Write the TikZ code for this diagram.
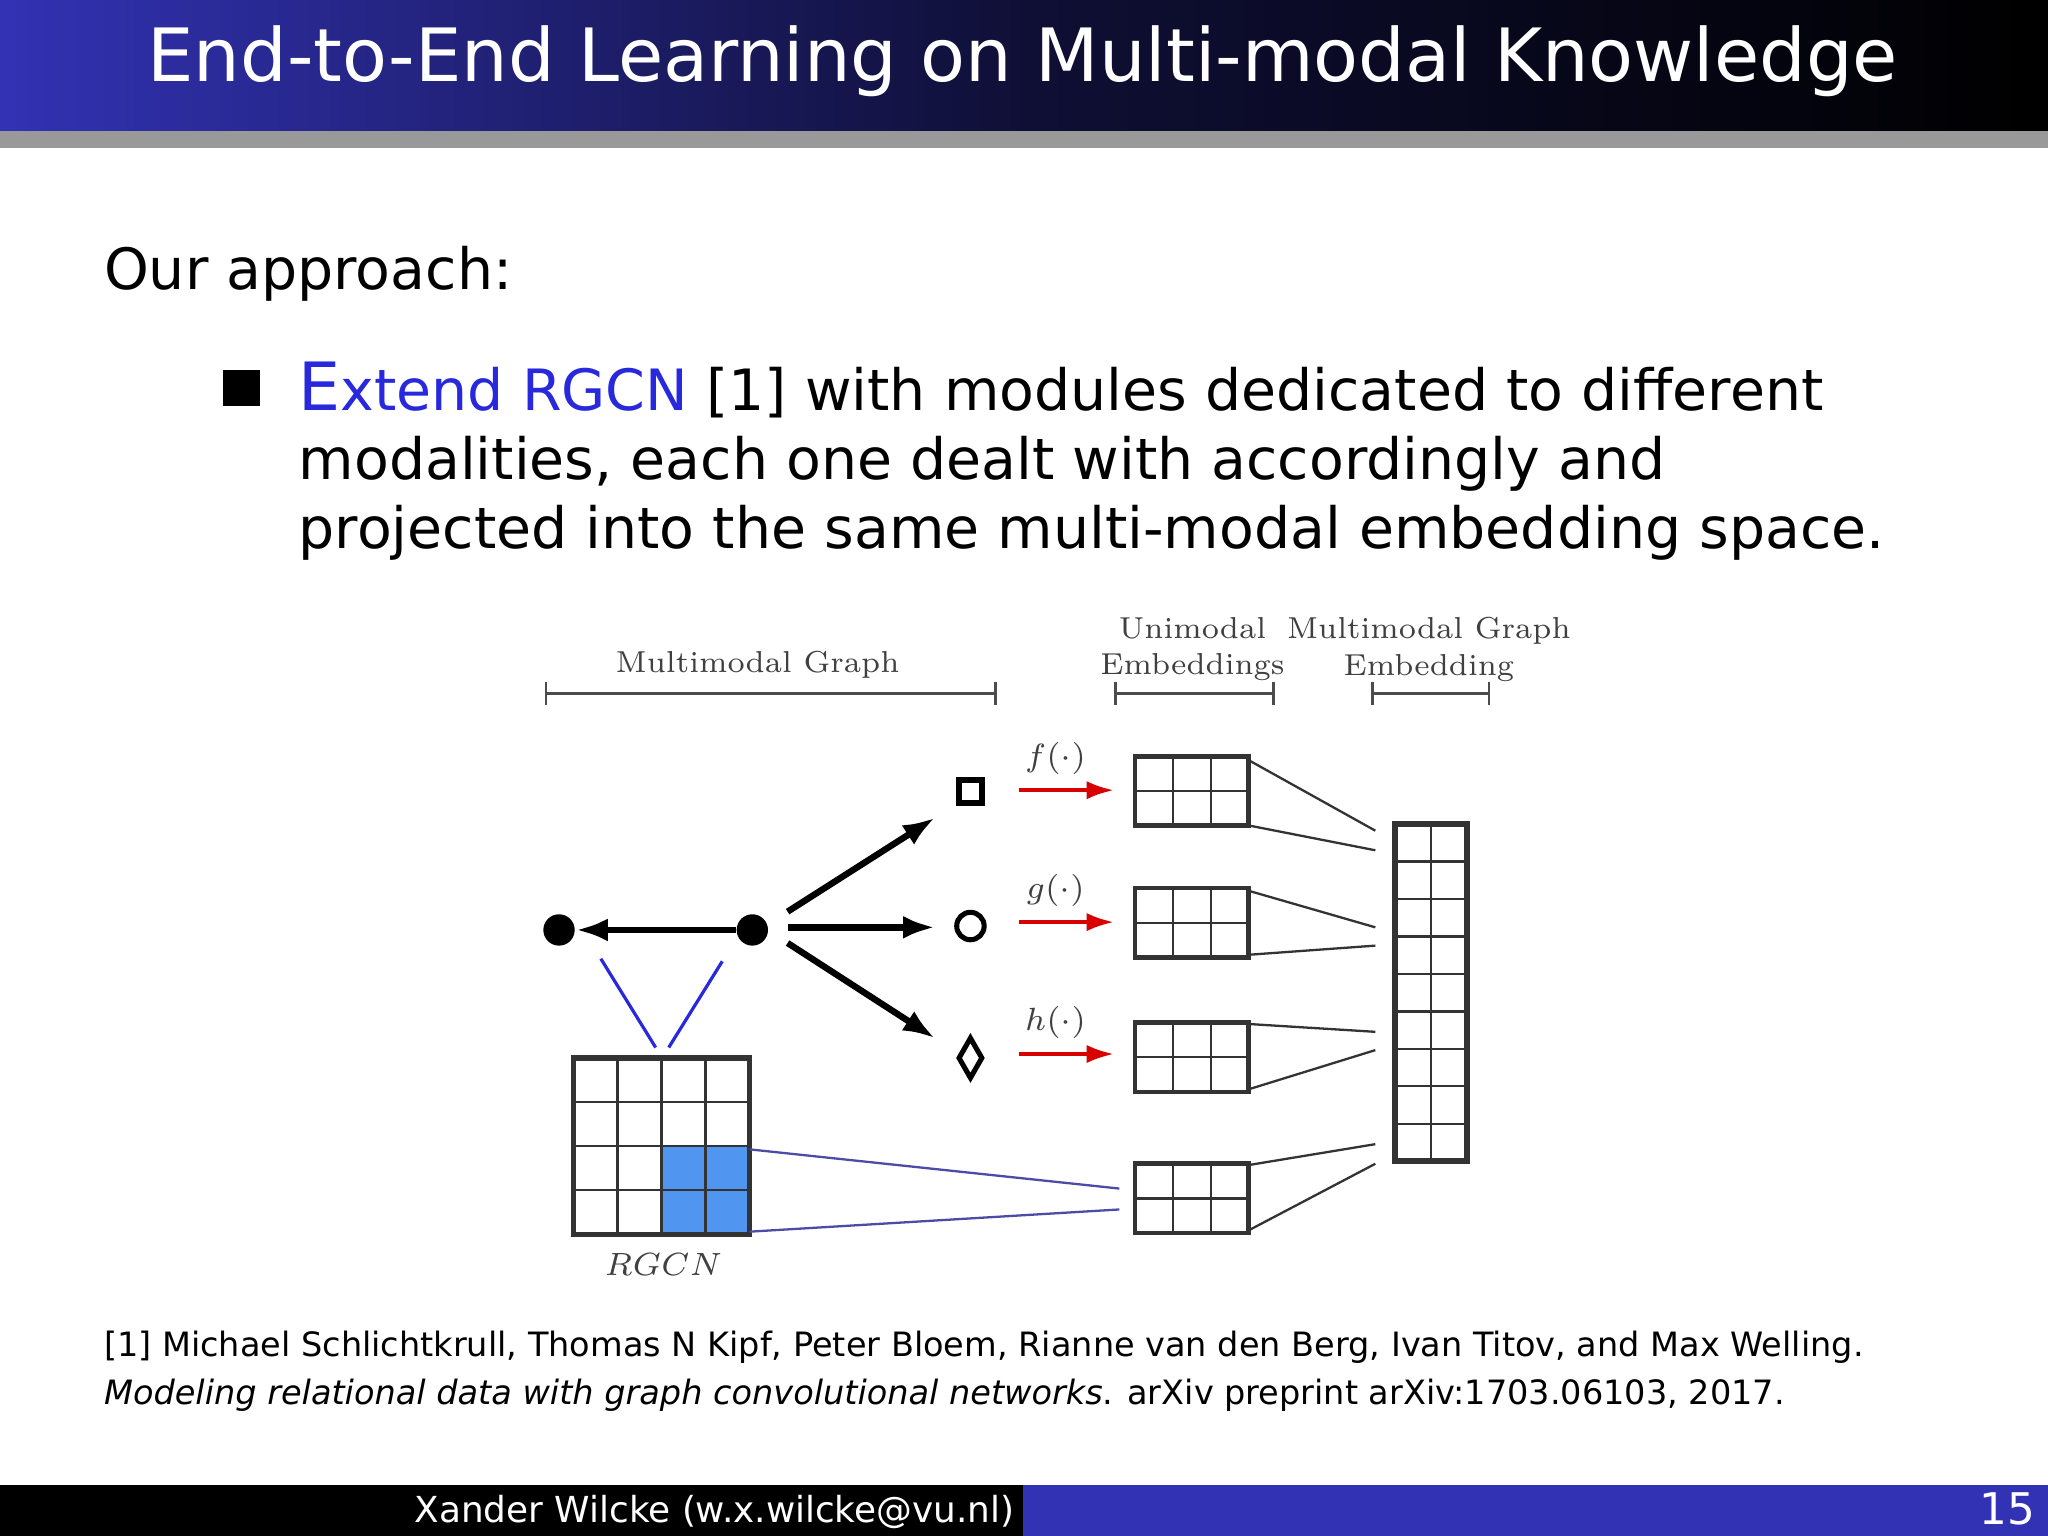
\documentclass[tikz,border=0pt]{standalone}
\usepackage{fontspec}
\setmainfont{DejaVu Sans}
\newfontfamily\dserif{Latin Modern Roman}
\usetikzlibrary{arrows.meta,shapes.geometric}
\definecolor{barblue}{RGB}{50,50,180}
\definecolor{cellblue}{RGB}{80,150,240}
\definecolor{linkblue}{RGB}{40,40,220}
\tikzset{
 lab/.style={font=\dserif\fontsize{6.6}{8}\selectfont, text=black!75, align=center},
 flab/.style={font=\dserif\fontsize{7.5}{8}\selectfont, text=black!75},
 grid3/.style={draw=black!80, line width=0.8pt},
 conn/.style={draw=black!80, line width=0.5pt},
 darrow/.style={-{Latex[length=7pt,width=5pt]}, line width=1.4pt},
 rarrow/.style={-{Latex[length=6pt,width=4pt]}, red!85!black, line width=0.9pt},
 brk/.style={draw=black!70, line width=0.6pt, {Bar[width=5pt]}-{Bar[width=5pt]}},
}
\begin{document}
\begin{tikzpicture}[x=0.01cm,y=-0.01cm]
\useasboundingbox (0,0) rectangle (1568,1176);
\shade[left color=barblue, right color=black, middle color=black!70!barblue] (0,0) rectangle (1568,100);
\fill[black!40] (0,100) rectangle (1568,113);
\node[text=white, font=\fontsize{16}{20}\selectfont] (title) at (783,47) {End-to-End Learning on Multi-modal Knowledge};
\node[anchor=west, inner sep=0, font=\fontsize{12.4}{16}\selectfont] (oa) at (79,210) {Our approach:};
\fill (171,283) rectangle (199,311);
\node[anchor=west, font=\fontsize{12.4}{15}\selectfont, align=left, inner sep=0] (bt) at (228,353) {{\color{linkblue}{\fontsize{14.5}{15}\selectfont E}xtend RGCN} [1] with modules dedicated to different\\modalities, each one dealt with accordingly and\\projected into the same multi-modal embedding space.};
% brackets
\node[lab] (l1) at (580,509) {Multimodal Graph};
\draw[brk] (417,531) -- (763,531);
\node[lab] (l2) at (913,497) {Unimodal\\Embeddings};
\draw[brk] (853,531) -- (976,531);
\node[lab] (l3) at (1094,497) {Multimodal Graph\\Embedding};
\draw[brk] (1050,531) -- (1141,531);
% graph nodes
\node[circle, fill=black, inner sep=0, minimum size=0.24cm] (n1) at (428,712) {};
\node[circle, fill=black, inner sep=0, minimum size=0.24cm] (n2) at (576,712) {};
\draw[darrow] (n2) -- (n1);
\node[draw, line width=1.3pt, inner sep=0, minimum size=0.18cm] (sq) at (743,606) {};
\node[draw, circle, line width=1.1pt, inner sep=0, minimum size=0.21cm] (ci) at (743,709) {};
\node[draw, diamond, line width=1.1pt, inner sep=0, minimum width=0.19cm, minimum height=0.32cm] (di) at (743,810) {};
\coordinate (s1) at (603,698); \coordinate (e1) at (716,626);
\coordinate (s2) at (603,710); \coordinate (e2) at (716,710);
\coordinate (s3) at (603,722); \coordinate (e3) at (716,795);
\draw[darrow] (s1) -- (e1);
\draw[darrow] (s2) -- (e2);
\draw[darrow] (s3) -- (e3);
% red arrows
\foreach \y/\f [count=\i] in {605/f,706/g,807/h}{
 \coordinate (ra\i) at (780,\y); \coordinate (rb\i) at (853,\y);
 \draw[rarrow] (ra\i) -- (rb\i);
 \node[flab] (fl\i) at (808,\y-24) {$\f(\cdot)$};
}
% small grids
\foreach \t [count=\i] in {579,680,783,891}{
 \draw[grid3, line width=0.5pt] (869,\t+26.5) -- (956,\t+26.5) (898,\t) -- (898,\t+53) (927,\t) -- (927,\t+53);
 \draw[grid3, line width=1pt] (869,\t) rectangle (956,\t+53);
}
% column
\draw[grid3, line width=0.5pt] (1095.5,631) -- (1095.5,889);
\foreach \k in {1,...,8}{\draw[grid3,line width=0.5pt] (1068,631+\k*28.67) -- (1123,631+\k*28.67);}
\draw[grid3, line width=1.2pt] (1068,631) rectangle (1123,889);
% connectors to column
\draw[conn] (956,582) -- (1053,636) (956,632) -- (1053,651);
\draw[conn] (956,682) -- (1053,710) (956,731) -- (1053,724);
\draw[conn] (956,784) -- (1053,790) (956,834) -- (1053,804);
\draw[conn] (956,892) -- (1053,876) (956,942) -- (1053,891);
% RGCN matrix
\fill[cellblue] (506.5,877.5) rectangle (574,945);
\foreach \k in {1,2,3}{
 \draw[grid3,line width=0.5pt] (439+\k*33.75,810) -- (439+\k*33.75,945);
 \draw[grid3,line width=0.5pt] (439,810+\k*33.75) -- (574,810+\k*33.75);
}
\draw[grid3, line width=1.2pt] (439,810) rectangle (574,945);
\node[flab] (rg) at (508,968) {$RGCN$};
\draw[linkblue, line width=0.7pt] (460,734) -- (502,802) (553,736) -- (512,802);
\draw[blue!50!black!70, line width=0.5pt] (574,880) -- (857,910) (574,943) -- (857,926);
% footnote
\node[anchor=west, align=left, inner sep=0, font=\fontsize{7.3}{10.5}\selectfont] (fn) at (79,1050) {[1] Michael Schlichtkrull, Thomas N Kipf, Peter Bloem, Rianne van den Berg, Ivan Titov, and Max Welling.\\\textit{Modeling relational data with graph convolutional networks}. arXiv preprint arXiv:1703.06103, 2017.};
% footer
\fill[black] (0,1137) rectangle (783,1176);
\fill[barblue] (783,1137) rectangle (1568,1176);
\node[text=white, font=\fontsize{7.8}{10}\selectfont] (au) at (547,1158) {Xander Wilcke (w.x.wilcke@vu.nl)};
\node[text=white, font=\fontsize{9.5}{10}\selectfont] (pg) at (1537,1155) {15};
\end{tikzpicture}
\end{document}
